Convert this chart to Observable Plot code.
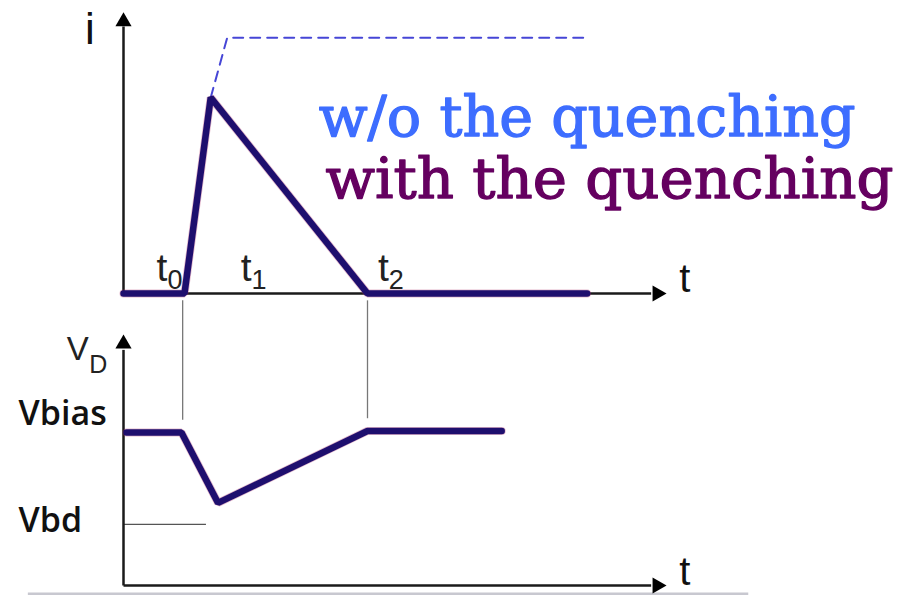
<!DOCTYPE html>
<html>
<head>
<meta charset="utf-8">
<script src="https://cdn.jsdelivr.net/npm/d3@7"></script>
<script src="https://cdn.jsdelivr.net/npm/@observablehq/plot@0.6"></script>
<style>
  html, body { margin: 0; padding: 0; background: #fff; }
  #chart { width: 908px; height: 595px; overflow: hidden; }
  #chart svg { display: block; }
</style>
</head>
<body>
<div id="chart"></div>
<script>
// ---------- data ----------
// time in arbitrary units (t0 = 1, t2 = 4)
const currentT = [0, 1, 1.43, 4, 7.6];
const currentI = [0, 0, 4, 0, 0];            // with quenching
const noQuenchT = [1.43, 1.7, 7.65];
const noQuenchI = [4, 5.22, 5.22];            // without quenching (dashed)
const voltT = [0.05, 0.95, 1.55, 4, 6.2];
const voltV = [5, 5, 2.7, 5.05, 5.05];        // diode voltage V_D
const markerTimes = [0.97, 4];                // t0 and t2 guides
const tickNames = ["t", "t", "t"];
const tickSubs = ["0", "1", "2"];
const tickPos = [0.72, 2.1, 4.35];
const vBias = 5, vBd = 2;
const vLevelNames = ["Vbias", "Vbd"];
const legendNames = ["w/o the quenching", "with the quenching"];
const legendColors = ["#3d6dff", "#650060"];

const tAxisEnd = 8.75, iAxisEnd = 5.55, vAxisEnd = 7.9;
const navy = "#1e0f6e";
const axisColor = "#1a1a1a";

// ---------- top panel: current ----------
const curData = currentT.map((t, k) => ({t, i: currentI[k]}));
const nqData = noQuenchT.map((t, k) => ({t, i: noQuenchI[k]}));
const ticks = tickPos.map((t, k) => ({t, name: tickNames[k], sub: tickSubs[k]}));
const xDomain = [0, 785 / 61];

const topPanel = Plot.plot({
  width: 908, height: 320,
  marginLeft: 123, marginRight: 0, marginTop: 0, marginBottom: 27,
  x: {domain: xDomain, axis: null},
  y: {domain: [0, 293 / 49], axis: null},
  marks: [
    Plot.ruleX(markerTimes, {y1: -0.15, y2: -0.6, stroke: "#777", strokeWidth: 1.3}),
    Plot.link([{x1: 0, y1: 0, x2: tAxisEnd - 0.1, y2: 0}], {x1: "x1", y1: "y1", x2: "x2", y2: "y2", stroke: axisColor, strokeWidth: 2.5}),
    Plot.link([{x1: 0, y1: 0, x2: 0, y2: iAxisEnd - 0.1}], {x1: "x1", y1: "y1", x2: "x2", y2: "y2", stroke: axisColor, strokeWidth: 2.5}),
    Plot.dot([{t: tAxisEnd, i: 0}], {x: "t", y: "i", symbol: "triangle", r: 6, rotate: 90, fill: "#000", stroke: "none"}),
    Plot.dot([{t: 0, i: iAxisEnd}], {x: "t", y: "i", symbol: "triangle", r: 6, fill: "#000", stroke: "none"}),
    Plot.line(nqData, {x: "t", y: "i", stroke: "#4646d6", strokeWidth: 2, strokeDasharray: "10,7"}),
    Plot.line(curData, {x: "t", y: "i", stroke: "#b0306a", strokeWidth: 8, strokeOpacity: 0.35, strokeLinejoin: "miter"}),
    Plot.line(curData, {x: "t", y: "i", stroke: navy, strokeWidth: 6.5, strokeLinejoin: "miter"}),
    Plot.text(["i"], {x: () => -0.55, y: () => 5.38, text: d => d, fontSize: 44, fontFamily: "Liberation Sans", fill: "#111"}),
    Plot.text(["t"], {x: () => 9.2, y: () => 0.3, text: d => d, fontSize: 40, fontFamily: "Liberation Sans", fill: "#111"}),
    Plot.text(ticks, {x: "t", y: () => 0.5, text: "name", fontSize: 39, fontFamily: "Liberation Sans", fill: "#222", textAnchor: "end"}),
    Plot.text(ticks, {x: "t", y: () => 0.27, text: "sub", fontSize: 27, fontFamily: "Liberation Sans", fill: "#222", textAnchor: "start"}),
    Plot.text([legendNames[0]], {x: () => 3.2, y: () => 3.58, text: d => d, textAnchor: "start", fontSize: 56, fontFamily: "DejaVu Serif", fill: legendColors[0], stroke: legendColors[0], strokeWidth: 1.3}),
    Plot.text([legendNames[1]], {x: () => 3.31, y: () => 2.31, text: d => d, textAnchor: "start", fontSize: 56, fontFamily: "DejaVu Serif", fill: legendColors[1], stroke: legendColors[1], strokeWidth: 1.3})
  ]
});

// ---------- bottom panel: voltage ----------
const vData = voltT.map((t, k) => ({t, v: voltV[k]}));
const levels = [{v: vBias + 0.6, name: vLevelNames[0]}, {v: vBd + 0.1, name: vLevelNames[1]}];

const bottomPanel = Plot.plot({
  width: 908, height: 275,
  marginLeft: 123, marginRight: 0, marginTop: 0, marginBottom: 10,
  x: {domain: xDomain, axis: null},
  y: {domain: [0, 265 / 30.6], axis: null},
  marks: [
    Plot.ruleX(markerTimes, {y1: 9, y2: [5.4, 5.45], stroke: "#777", strokeWidth: 1.3}),
    Plot.ruleY([-0.27], {x1: -1.56, x2: 10.25, stroke: "#c8c8d0", strokeWidth: 2.5}),
    Plot.ruleY([vBd], {x1: 0, x2: 1.36, stroke: "#555", strokeWidth: 1.3}),
    Plot.link([{x1: 0, y1: 0, x2: tAxisEnd - 0.1, y2: 0}], {x1: "x1", y1: "y1", x2: "x2", y2: "y2", stroke: axisColor, strokeWidth: 2.5}),
    Plot.link([{x1: 0, y1: 0, x2: 0, y2: vAxisEnd - 0.2}], {x1: "x1", y1: "y1", x2: "x2", y2: "y2", stroke: axisColor, strokeWidth: 2.5}),
    Plot.dot([{t: tAxisEnd, v: 0}], {x: "t", y: "v", symbol: "triangle", r: 6, rotate: 90, fill: "#000", stroke: "none"}),
    Plot.dot([{t: 0, v: vAxisEnd}], {x: "t", y: "v", symbol: "triangle", r: 6, fill: "#000", stroke: "none"}),
    Plot.line(vData, {x: "t", y: "v", stroke: "#b0306a", strokeWidth: 8, strokeOpacity: 0.35, strokeLinejoin: "miter"}),
    Plot.line(vData, {x: "t", y: "v", stroke: navy, strokeWidth: 6.5, strokeLinejoin: "miter"}),
    Plot.text(levels, {x: () => -1.72, y: "v", text: "name", textAnchor: "start", fontSize: 34, fontWeight: 600, fontFamily: "Open Sans", fill: "#111"}),
    Plot.text(["V"], {x: () => -0.57, y: () => 7.72, text: d => d, textAnchor: "end", fontSize: 33, fontFamily: "Liberation Sans", fill: "#222"}),
    Plot.text(["D"], {x: () => -0.56, y: () => 7.2, text: d => d, textAnchor: "start", fontSize: 25, fontFamily: "Liberation Sans", fill: "#222"}),
    Plot.text(["t"], {x: () => 9.2, y: () => 0.45, text: d => d, fontSize: 40, fontFamily: "Liberation Sans", fill: "#111"})
  ]
});

const chart = document.getElementById("chart");
chart.appendChild(topPanel);
chart.appendChild(bottomPanel);

// fit legend text widths to the reference
const widths = [537, 568];
d3.select(topPanel).selectAll("text").filter(function() {
  return legendNames.includes(this.textContent);
}).each(function() {
  const k = legendNames.indexOf(this.textContent);
  this.setAttribute("textLength", widths[k]);
  this.setAttribute("lengthAdjust", "spacingAndGlyphs");
});
</script>
</body>
</html>
